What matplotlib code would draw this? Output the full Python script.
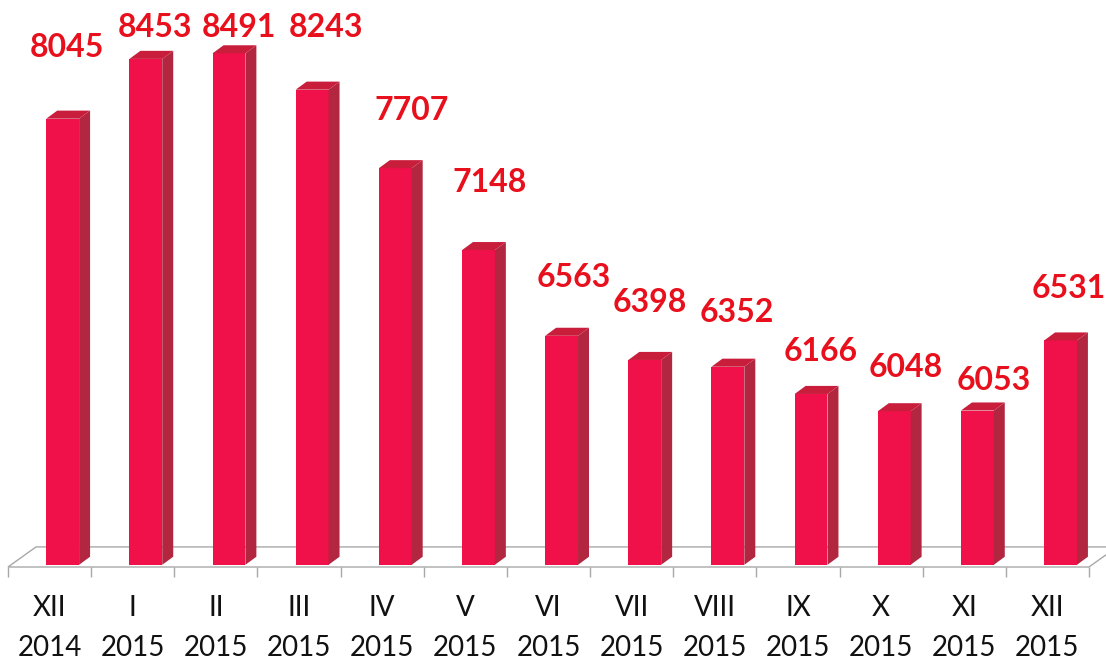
import numpy as np
import matplotlib
matplotlib.use("Agg")
import matplotlib.pyplot as plt
from matplotlib.patches import Polygon

plt.rcParams['font.family'] = ['Lato', 'DejaVu Sans']

# data
months = ["XII", "I", "II", "III", "IV", "V", "VI", "VII", "VIII", "IX", "X", "XI", "XII"]
years = ["2014"] + ["2015"] * 12
values = [8045, 8453, 8491, 8243, 7707, 7148, 6563, 6398, 6352, 6166, 6048, 6053, 6531]

# label placement (offsets from bar position, in data units)
label_dx = [0.21, 0.27, 0.28, 0.32, 0.36, 0.29, 0.30, 0.22, 0.26, 0.27, 0.30, 0.36, 0.26]
label_dy = [483, 211, 173, 421, 397, 458, 401, 389, 367, 287, 302, 208, 358]

base = 5000
front_col = '#f0104a'
side_col = '#b3263f'
top_col = '#c91d3c'
label_col = '#e8101c'
floor_col = '#a8a8a8'

W, H = 1106, 662
fig = plt.figure(figsize=(W / 100, H / 100), dpi=100)
ax = fig.add_axes([8 / W, (H - 567) / H, (1089 - 8) / W, 567 / H])
ax.set_xlim(-0.5, 12.5)
ax.set_ylim(4985, 8855)

# depth of the 3d look, in data units
ddx, ddy = 0.132, 55
fdx, fdy = 0.337, 137

# floor
floor = Polygon([(-0.5, 4985), (12.5, 4985), (12.5 + fdx, 4985 + fdy), (-0.5 + fdx, 4985 + fdy)],
                closed=True, facecolor='white', edgecolor=floor_col, lw=1.0, clip_on=False, zorder=1)
ax.add_patch(floor)

x = np.arange(len(values))
left = x - 0.04
width = 0.395
ax.bar(left, np.array(values) - base, bottom=base, width=width, align='edge',
       color=front_col, edgecolor='none', zorder=3)

for xi, v in zip(left, values):
    r = xi + width
    side = Polygon([(r, base), (r + ddx, base + ddy), (r + ddx, v + ddy), (r, v)],
                   closed=True, facecolor=side_col, edgecolor='none', zorder=3)
    top = Polygon([(xi, v), (r, v), (r + ddx, v + ddy), (xi + ddx, v + ddy)],
                  closed=True, facecolor=top_col, edgecolor='none', zorder=3)
    ax.add_patch(side)
    ax.add_patch(top)

for i, v in enumerate(values):
    ax.text(i + label_dx[i], v + label_dy[i], str(v), ha='center', va='center',
            fontsize=23, fontweight='bold', color=label_col, clip_on=False, zorder=5)

ax.set_xticks(x)
ax.set_xticklabels([f"{m}\n{y}" for m, y in zip(months, years)], fontsize=20,
                   linespacing=1.7, color='#111111')
ax.set_xticks(np.arange(-0.5, 13, 1), minor=True)
ax.tick_params(axis='x', which='major', length=0, pad=20)
ax.tick_params(axis='x', which='minor', length=7, color=floor_col, width=1.0)
ax.set_yticks([])
for s in ax.spines.values():
    s.set_visible(False)

fig.savefig("out.png", dpi=100, facecolor='white')
